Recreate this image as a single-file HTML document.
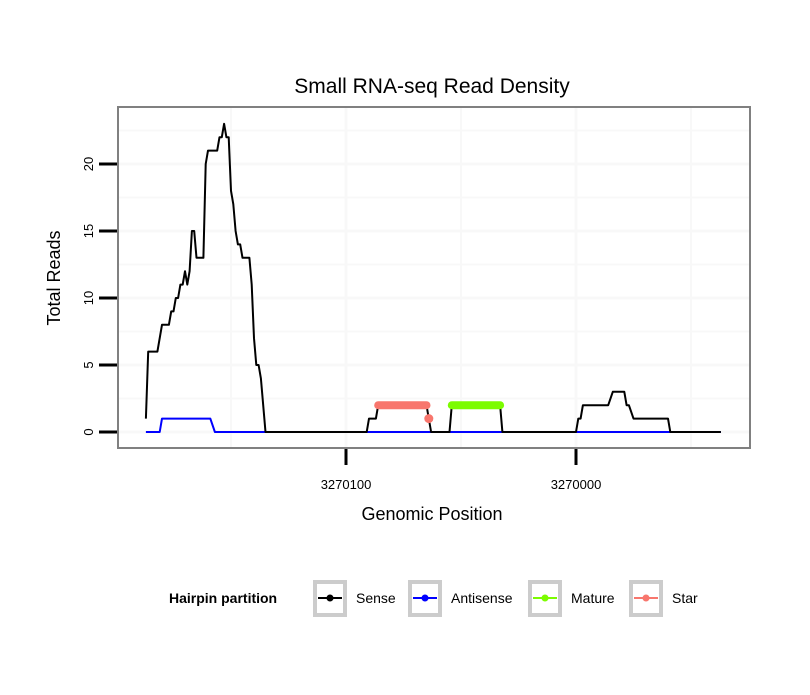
<!DOCTYPE html>
<html><head><meta charset="utf-8"><style>
body{margin:0;background:#fff;}
svg text{font-family:"Liberation Sans",sans-serif;}
</style></head><body>
<svg id="c" width="810" height="690" viewBox="0 0 810 690" xmlns="http://www.w3.org/2000/svg">
<rect width="810" height="690" fill="#fff"/>
<text x="432" y="93" font-size="21" text-anchor="middle">Small RNA-seq Read Density</text>
<g id="grid"></g>
<g id="series"></g>
<rect x="118" y="107" width="632" height="341" fill="none" stroke="#808080" stroke-width="2"/>
<g id="axes"></g>
<text x="432" y="520" font-size="18" text-anchor="middle">Genomic Position</text>
<text transform="translate(60,278) rotate(-90)" font-size="18" text-anchor="middle">Total Reads</text>
<g>
<text x="169" y="603" font-size="14" font-weight="bold">Hairpin partition</text>
<g id="legend"></g>
</g>
</svg>
<script>
const BASE = 3270100;
// sense: [offset from 3270100, reads]
const senseOffsets = [87,86,82,80,77,76,75,74,73,72,71,70,69,68,67,66,65,62,61,60,56,55,54,53,52,51,50,49,48,47,46,45,42,41,40,39,38,37,35,-9,-10,-13,-14,-35,-37,-45,-46,-67,-68,-100,-101,-102,-103,-114,-116,-121,-122,-123,-125,-140,-141,-163];
const senseValues  = [1,6,6,8,8,9,9,10,10,11,11,12,11,12,15,15,13,13,20,21,21,22,22,23,22,22,18,17,15,14,14,13,13,11,7,5,5,4,0,0,1,1,2,2,0,0,2,2,0,0,1,1,2,2,3,3,2,2,1,1,0,0];
const antiOffsets = [87,81,80,59,57,-163];
const antiValues  = [0,0,1,1,0,0];
const matureOffsets = [-46,-67];
const matureValues = [2,2];
const starOffsets = [-14,-35];
const starValues = [2,2];
const starPointOffset = [-36];
const starPointValue = [1];
const yTicks = [0,5,10,15,20];
const xTicks = [3270100,3270000];
const xTickLabels = ["3270100","3270000"];

const NS="http://www.w3.org/2000/svg";
const xs = p => 346 + (BASE - p) * 2.3;
const xo = o => xs(BASE + o);
const ys = v => 432 - v * 13.4;
function mk(tag, attrs, parent){const e=document.createElementNS(NS,tag);for(const k in attrs)e.setAttribute(k,attrs[k]);parent.appendChild(e);return e;}
const grid=document.getElementById('grid'), series=document.getElementById('series'), axes=document.getElementById('axes'), legend=document.getElementById('legend');

for(let v=-2.5; v<=25; v+=2.5){const y=ys(v); if(y<108||y>447) continue;
 const l=mk('line',{x1:119,x2:749,y1:y,y2:y,stroke:'#f8f8f8','stroke-width':(v%5===0)?3:2},grid);
 
 }
for(let p=3270150; p>=3269900; p-=50){const x=xs(p); if(x<119||x>749) continue;
 const l=mk('line',{x1:x,x2:x,y1:108,y2:447,stroke:'#f8f8f8','stroke-width':(p%100===0)?3:2},grid);
 
 }

function path(offs, vals, color, w, name, cap){
 const d=offs.map((o,i)=>(i?'L':'M')+xo(o).toFixed(1)+','+ys(vals[i]).toFixed(1)).join(' ');
 const p=mk('path',{d:d,fill:'none',stroke:color,'stroke-width':w,'stroke-linejoin':'round','stroke-linecap':cap||'butt'},series);
 
 
}
path(antiOffsets, antiValues, '#0000ff', 2, 'antisense-line');
path(senseOffsets, senseValues, '#000000', 2, 'sense-line');
path(starOffsets, starValues, '#f8766d', 8, 'star-line', 'round');
path(matureOffsets, matureValues, '#7cfc00', 8, 'mature-line', 'round');
starPointOffset.forEach((o,i)=>{
 const c=mk('circle',{cx:xo(o),cy:ys(starPointValue[i]),r:4.5,fill:'#f8766d'},series);
 
 
});

yTicks.forEach(v=>{const y=ys(v);
 const t=mk('line',{x1:99,x2:117,y1:y,y2:y,stroke:'#000','stroke-width':3},axes);
 
 
 const tx=mk('text',{transform:`translate(93,${y}) rotate(-90)`,'font-size':13,'text-anchor':'middle'},axes);
 tx.textContent=v;
 
 
});
xTicks.forEach((p,i)=>{const x=xs(p);
 const t=mk('line',{x1:x,x2:x,y1:449,y2:465,stroke:'#000','stroke-width':3},axes);
 
 
 const tx=mk('text',{x:x,y:489,'font-size':13,'text-anchor':'middle'},axes);
 tx.textContent=xTickLabels[i];
 
 
});

const legNames=['Sense','Antisense','Mature','Star'];
const legColors=['#000000','#0000ff','#7cfc00','#f8766d'];
const legBoxX=[313,408,528,629];
legNames.forEach((n,i)=>{const x=legBoxX[i];
 const r=mk('rect',{x:x+2,y:582,width:30,height:33,fill:'#fff',stroke:'#cccccc','stroke-width':4},legend);
 
 
 const l=mk('line',{x1:x+5,x2:x+29,y1:598,y2:598,stroke:legColors[i],'stroke-width':2},legend);
 
 
 const c=mk('circle',{cx:x+17,cy:598,r:3.5,fill:legColors[i]},legend);
 
 
 const t=mk('text',{x:x+43,y:603,'font-size':14},legend);
 t.textContent=n;
 
 
});
</script>
</body></html>
